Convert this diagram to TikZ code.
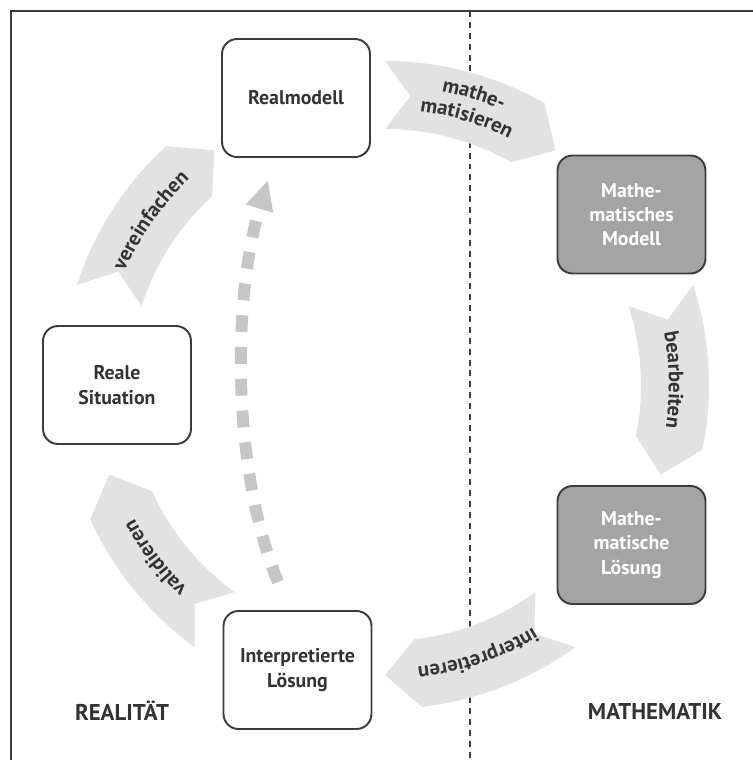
\documentclass[tikz,border=0pt]{standalone}
\usepackage{fontspec}
\setmainfont{PT Sans}
\usetikzlibrary{arrows.meta,decorations.text}

\definecolor{framegray}{HTML}{3C3C3C}
\definecolor{bandgray}{HTML}{E2E2E2}
\definecolor{boxdark}{HTML}{A4A4A4}
\definecolor{textgray}{HTML}{333333}
\definecolor{dashgray}{HTML}{C6C6C6}
\newcommand{\arrowfont}{\bfseries\fontsize{11.8}{14}\selectfont}

\begin{document}
\begin{tikzpicture}[x=0.02cm,y=-0.02cm,
  box/.style={draw=framegray,line width=1.1pt,rounded corners=0.3cm,minimum width=2.96cm,minimum height=2.36cm,align=center,text=textgray,font=\bfseries\fontsize{11.3}{13.8}\selectfont},
  mathbox/.style={box,fill=boxdark,text=white},
  region/.style={text=textgray,font=\bfseries\fontsize{13}{15}\selectfont}]
\useasboundingbox (0,0) rectangle (753,760);

\coordinate (TL) at (11,11);
\coordinate (TR) at (753,11);
\coordinate (BL) at (11,760);
\coordinate (ST) at (470,11);
\coordinate (SB) at (470,760);
\draw[framegray,line width=1.1pt] (TR)--(TL)--(BL);
\draw[framegray,line width=0.8pt,dash pattern=on 3.4pt off 2.8pt] (ST)--(SB);

% the five arrows of the cycle
\foreach \a in {198,270,342,414,486}{
  \fill[bandgray,shift={(385,385)}] plot[domain=\a:\a+29.5,samples=20] (\x:324)
    -- ({\a+36}:290)
    -- plot[domain=\a+29.5:\a,samples=20] (\x:256)
    -- ({\a+5}:290) -- cycle;
}

\path[shift={(385,385)},decorate,decoration={text along path,text align=center,text color=textgray,text={|\arrowfont|vereinfachen}}] plot[domain=190:240,samples=40] (\x:284);
\path[shift={(385,385)},decorate,decoration={text along path,text align=center,text color=textgray,text={|\arrowfont|mathe-}}] plot[domain=262:312,samples=40] (\x:299);
\path[shift={(385,385)},decorate,decoration={text along path,text align=center,text color=textgray,text={|\arrowfont|matisieren}}] plot[domain=262:312,samples=40] (\x:276);
\path[shift={(385,385)},decorate,decoration={text along path,text align=center,text color=textgray,text={|\arrowfont|bearbeiten}}] plot[domain=334:384,samples=40] (\x:284);
\path[shift={(385,385)},decorate,decoration={text along path,text align=center,text color=textgray,text={|\arrowfont|interpretieren}}] plot[domain=46:96,samples=40] (\x:284);
\path[shift={(385,385)},decorate,decoration={text along path,text align=center,text color=textgray,text={|\arrowfont|validieren}}] plot[domain=118:168,samples=40] (\x:284);

% validieren back to the real model
\coordinate (DS) at (278,582);
\coordinate (DE) at (268,180);
\draw[dashgray,line width=6.8pt,dash pattern=on 9.6pt off 8.5pt,-{Triangle[length=17pt,width=15pt]}] (DS) .. controls (232,470) and (232,300) .. (DE);

\node[box] (realmodell) at (296,98) {Realmodell};
\node[mathbox] (mmodell) at (631.5,214.5) {Mathe-\\matisches\\Modell};
\node[mathbox] (mloesung) at (631.5,545) {Mathe-\\matische\\Lösung};
\node[box] (interpret) at (297.5,670) {Interpretierte\\Lösung};
\node[box] (realsit) at (117,385) {Reale\\Situation};

\node[region] (realitaet) at (122,711) {REALITÄT};
\node[region] (mathematik) at (655,711) {MATHEMATIK};
\end{tikzpicture}
\end{document}
